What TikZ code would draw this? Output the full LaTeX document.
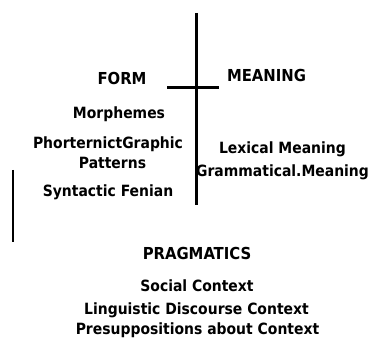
\documentclass[tikz,border=0pt]{standalone}
\usepackage{fontspec}
\setmainfont{DejaVu Sans Condensed}
\begin{document}
\begin{tikzpicture}[x=1pt,y=-1pt,
  lbl/.style={font=\bfseries\fontsize{15.5}{18}\selectfont, anchor=base, inner sep=0pt, align=center},
  caps/.style={lbl, font=\bfseries\fontsize{16.5}{18}\selectfont},
  thickline/.style={line width=3pt},
  thinline/.style={line width=1.5pt}]
\useasboundingbox (0,0) rectangle (381,339);
\coordinate (vtop) at (196,13);
\coordinate (vbot) at (196,205);
\coordinate (hl) at (167,88);
\coordinate (hr) at (219,88);
\coordinate (ltop) at (13,170);
\coordinate (lbot) at (13,242);
\draw[thickline] (vtop) -- (vbot);
\draw[thickline] (hl) -- (hr);
\draw[thinline] (ltop) -- (lbot);
\node[caps] (form) at (122,84.5) {FORM};
\node[caps] (meaning) at (266.5,82) {MEANING};
\node[lbl] (morph) at (119,118.5) {Morphemes};
\node[lbl] (phor) at (108,149) {PhorternictGraphic};
\node[lbl] (patt) at (112.5,168.5) {Patterns};
\node[lbl] (lex) at (282.5,154) {Lexical Meaning};
\node[lbl] (gram) at (282.5,177) {Grammatical.Meaning};
\node[lbl] (synt) at (108,197) {Syntactic Fenian};
\node[caps] (prag) at (197,260) {PRAGMATICS};
\node[lbl] (soc) at (197,292) {Social Context};
\node[lbl] (ling) at (196.5,314.5) {Linguistic Discourse Context};
\node[lbl] (pres) at (197.5,334.5) {Presuppositions about Context};
\end{tikzpicture}
\end{document}
